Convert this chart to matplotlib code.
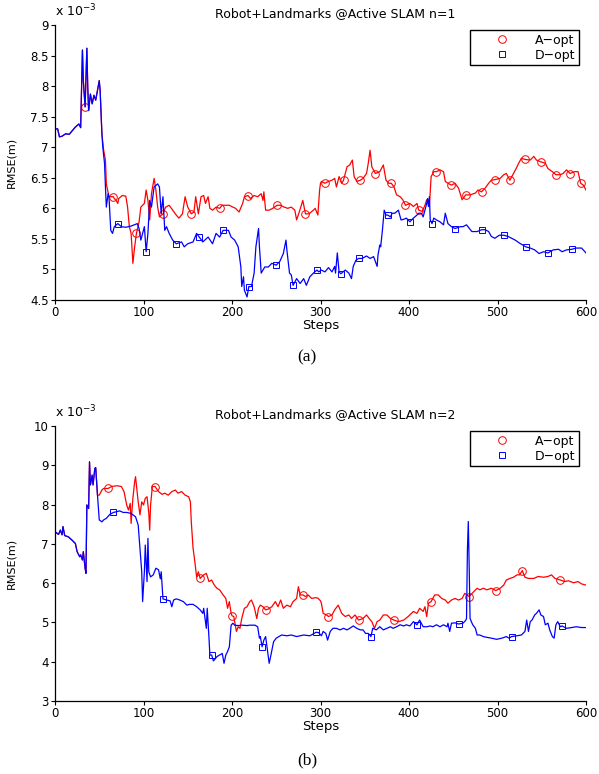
import numpy as np
import matplotlib
matplotlib.use("Agg")
import matplotlib.pyplot as plt
from matplotlib.lines import Line2D
from matplotlib.ticker import FuncFormatter

plt.rcParams['font.family'] = ['DejaVu Sans']

# RMSE values are in units of 1e-3 m
# ---- n=1 ----
steps_d1 = [0, 3, 5, 8, 12, 16, 20, 23, 27, 29, 31, 32, 34, 36, 37, 38, 40, 42, 44, 46, 48, 50, 51, 53, 54,
            56, 57, 58, 60, 61, 63, 65, 67, 71, 75, 80, 86, 93, 95, 97, 101, 103, 105, 107, 109, 112, 116,
            118, 120, 122, 124, 126, 129, 133, 137, 143, 146, 150, 156, 160, 163, 167, 173, 178, 182, 186,
            190, 196, 199, 203, 207, 210, 211, 213, 214, 217, 219, 222, 225, 227, 230, 231, 233, 237, 241,
            245, 250, 254, 258, 261, 262, 265, 267, 269, 273, 277, 281, 284, 288, 292, 296, 298, 301, 305,
            309, 313, 316, 317, 319, 321, 323, 328, 332, 335, 337, 340, 343, 347, 352, 356, 360, 364, 365,
            367, 368, 370, 372, 374, 376, 379, 381, 384, 388, 391, 394, 397, 401, 405, 409, 411, 414, 416,
            418, 420, 421, 422, 423, 424, 426, 428, 431, 435, 439, 441, 444, 448, 452, 458, 461, 465, 471,
            477, 482, 486, 490, 493, 497, 502, 507, 512, 516, 520, 525, 532, 537, 542, 547, 552, 557, 563,
            569, 573, 578, 584, 589, 595, 600]
rmse_d1 = [7.30, 7.30, 7.17, 7.18, 7.22, 7.21, 7.28, 7.33, 7.38, 7.32, 8.59, 8.09, 7.66, 8.62, 7.98, 7.60,
           7.87, 7.71, 7.85, 7.77, 7.93, 8.09, 7.93, 7.22, 7.00, 6.73, 6.35, 6.02, 6.24, 6.19, 5.64, 5.59,
           5.70, 5.75, 5.70, 5.69, 5.71, 5.75, 5.67, 5.48, 5.70, 5.29, 5.59, 6.13, 6.02, 6.35, 6.40, 6.35,
           5.91, 6.19, 5.64, 5.70, 5.59, 5.48, 5.42, 5.45, 5.37, 5.42, 5.45, 5.59, 5.53, 5.45, 5.53, 5.42,
           5.59, 5.53, 5.64, 5.64, 5.53, 5.48, 5.37, 5.04, 4.72, 4.88, 4.66, 4.55, 4.72, 4.72, 4.94, 5.37,
           5.67, 5.37, 4.94, 5.04, 5.04, 5.10, 5.07, 5.13, 5.26, 5.48, 5.32, 4.94, 4.91, 4.74, 4.85, 4.77,
           4.85, 4.74, 4.88, 4.94, 4.99, 4.96, 4.99, 4.96, 5.03, 4.96, 5.05, 4.94, 5.27, 4.96, 4.93, 4.99,
           4.94, 4.85, 5.05, 5.15, 5.18, 5.18, 5.22, 5.18, 5.21, 5.05, 5.24, 5.40, 5.37, 5.65, 5.97, 5.89,
           5.89, 5.86, 5.92, 5.92, 5.97, 5.81, 5.82, 5.84, 5.78, 5.84, 5.89, 5.92, 5.92, 5.86, 5.97, 6.08,
           6.16, 6.03, 6.19, 5.81, 5.75, 5.84, 5.81, 5.78, 5.73, 5.92, 5.75, 5.70, 5.67, 5.70, 5.70, 5.73,
           5.62, 5.62, 5.65, 5.65, 5.62, 5.54, 5.51, 5.56, 5.56, 5.54, 5.51, 5.48, 5.43, 5.37, 5.35, 5.32,
           5.26, 5.29, 5.27, 5.32, 5.33, 5.29, 5.32, 5.33, 5.35, 5.35, 5.27]

steps_a1 = [0, 3, 5, 8, 12, 16, 20, 23, 27, 29, 31, 32, 34, 36, 37, 38, 40, 42, 44, 46, 48, 50, 51, 53, 55,
            57, 58, 61, 66, 67, 69, 71, 72, 76, 80, 82, 84, 86, 88, 90, 92, 95, 97, 101, 103, 105, 107, 109,
            112, 114, 116, 118, 122, 125, 129, 133, 137, 140, 144, 147, 150, 154, 157, 159, 162, 165, 168,
            170, 173, 175, 178, 182, 186, 189, 193, 197, 201, 204, 208, 212, 214, 218, 221, 225, 229, 233,
            235, 236, 238, 242, 246, 251, 255, 259, 263, 267, 271, 273, 276, 280, 283, 287, 292, 294, 297,
            299, 300, 301, 305, 309, 313, 316, 318, 321, 324, 326, 330, 333, 336, 338, 341, 345, 348, 352,
            354, 356, 358, 362, 367, 371, 374, 377, 380, 383, 386, 390, 393, 396, 401, 405, 409, 411, 415,
            418, 420, 423, 425, 428, 431, 435, 439, 441, 444, 448, 452, 456, 460, 464, 469, 475, 478, 482,
            486, 490, 493, 497, 503, 507, 510, 514, 518, 521, 524, 527, 531, 537, 541, 544, 549, 554, 557,
            562, 566, 571, 574, 578, 582, 587, 591, 594, 597, 600]
rmse_a1 = [7.30, 7.30, 7.17, 7.18, 7.22, 7.21, 7.28, 7.33, 7.38, 7.32, 8.59, 8.09, 7.66, 8.62, 7.98, 7.60,
           7.87, 7.71, 7.85, 7.77, 7.93, 8.09, 7.93, 7.22, 6.95, 6.79, 6.40, 6.19, 6.19, 6.16, 6.13, 6.08,
           6.16, 6.21, 6.20, 6.02, 5.70, 5.59, 5.10, 5.37, 5.59, 5.78, 6.02, 6.08, 6.30, 6.13, 5.81, 6.24,
           6.49, 6.30, 6.02, 5.86, 5.91, 6.02, 6.05, 5.97, 5.89, 5.84, 5.91, 6.19, 6.02, 5.91, 5.94, 6.19,
           5.91, 6.19, 6.21, 6.08, 6.19, 6.00, 5.97, 6.02, 6.00, 6.05, 6.05, 6.05, 6.02, 6.00, 5.94, 6.08,
           6.19, 6.21, 6.16, 6.21, 6.19, 6.24, 6.13, 6.27, 5.97, 5.97, 6.00, 6.05, 6.05, 6.02, 6.00, 6.02,
           5.97, 5.81, 5.94, 6.13, 5.91, 5.91, 5.97, 6.00, 5.89, 6.30, 6.41, 6.44, 6.41, 6.44, 6.46, 6.49,
           6.35, 6.52, 6.41, 6.46, 6.68, 6.71, 6.79, 6.52, 6.44, 6.46, 6.49, 6.57, 6.74, 6.95, 6.68, 6.57,
           6.60, 6.71, 6.46, 6.41, 6.41, 6.35, 6.22, 6.19, 6.14, 6.05, 6.08, 6.03, 6.08, 5.97, 5.95, 6.05,
           6.14, 6.03, 6.52, 6.60, 6.60, 6.63, 6.60, 6.44, 6.41, 6.38, 6.41, 6.33, 6.14, 6.22, 6.22, 6.25,
           6.30, 6.27, 6.33, 6.41, 6.46, 6.47, 6.49, 6.55, 6.57, 6.46, 6.57, 6.65, 6.74, 6.82, 6.80, 6.79,
           6.85, 6.79, 6.76, 6.74, 6.65, 6.60, 6.55, 6.55, 6.57, 6.63, 6.57, 6.60, 6.60, 6.41, 6.38, 6.30]

marks_a1 = [35, 66, 92, 122, 155, 187, 219, 251, 283, 305, 326, 345, 362, 380, 396, 411, 431, 448, 464,
            482, 497, 514, 531, 549, 566, 582, 594]
marks_d1 = [71, 104, 137, 165, 192, 220, 250, 271, 297, 323, 345, 376, 401, 427, 452, 480, 506, 532, 557, 584]

# ---- n=2 ----
steps_d2 = [0, 4, 6, 8, 9, 11, 15, 19, 23, 25, 28, 29, 31, 32, 34, 35, 36, 38, 39, 40, 42, 43, 45, 46, 48,
            50, 53, 55, 58, 62, 66, 70, 73, 77, 81, 85, 88, 91, 94, 96, 98, 99, 101, 102, 104, 105, 106,
            108, 111, 114, 117, 119, 120, 122, 126, 130, 132, 134, 137, 141, 145, 149, 152, 156, 160, 164,
            167, 168, 171, 172, 174, 175, 177, 179, 183, 186, 189, 191, 193, 195, 197, 199, 201, 203, 207,
            211, 217, 220, 226, 229, 231, 232, 234, 236, 238, 240, 242, 244, 247, 250, 256, 262, 267, 273,
            281, 288, 295, 298, 301, 303, 306, 308, 311, 314, 318, 322, 326, 330, 333, 337, 341, 345, 348,
            351, 354, 357, 359, 363, 367, 371, 375, 379, 382, 386, 390, 394, 397, 401, 405, 409, 412, 416,
            420, 424, 427, 431, 435, 439, 443, 444, 446, 448, 452, 456, 461, 464, 465, 466, 467, 468, 469,
            472, 475, 477, 480, 484, 488, 493, 499, 505, 510, 513, 516, 522, 527, 531, 533, 535, 537, 539,
            542, 544, 547, 549, 552, 554, 557, 559, 562, 564, 566, 568, 571, 573, 578, 584, 589, 595, 600]
rmse_d2 = [7.31, 7.24, 7.35, 7.23, 7.44, 7.21, 7.18, 7.10, 7.01, 6.80, 6.67, 6.72, 6.59, 6.80, 6.38, 6.25,
           7.99, 7.90, 9.09, 8.50, 8.75, 8.50, 8.92, 8.94, 8.24, 7.61, 7.56, 7.61, 7.65, 7.75, 7.80, 7.82,
           7.84, 7.80, 7.80, 7.78, 7.74, 7.69, 7.48, 6.89, 6.29, 5.53, 6.29, 6.97, 6.04, 7.14, 6.29, 6.16,
           6.21, 6.38, 6.34, 6.11, 6.29, 5.60, 5.57, 5.55, 5.40, 5.57, 5.60, 5.57, 5.53, 5.44, 5.46, 5.46,
           5.40, 5.32, 5.23, 5.36, 4.85, 5.36, 4.60, 4.17, 4.17, 4.02, 4.13, 4.17, 4.21, 3.96, 4.17, 4.26,
           4.38, 4.93, 4.98, 4.93, 4.92, 4.93, 4.92, 4.93, 4.93, 4.89, 4.60, 4.64, 4.38, 4.55, 4.64, 4.30,
           3.96, 4.17, 4.51, 4.60, 4.68, 4.66, 4.68, 4.64, 4.68, 4.66, 4.75, 4.74, 4.66, 4.77, 4.72, 4.55,
           4.77, 4.85, 4.85, 4.81, 4.85, 4.81, 4.85, 4.91, 4.85, 4.81, 4.81, 4.72, 4.72, 4.64, 4.85, 4.81,
           4.89, 4.81, 4.85, 4.89, 4.85, 4.89, 4.94, 4.91, 4.94, 4.91, 5.02, 4.94, 5.06, 4.89, 4.89, 4.91,
           4.89, 4.94, 4.89, 4.94, 4.89, 4.98, 4.77, 4.98, 4.99, 4.96, 4.98, 5.05, 5.10, 6.84, 7.57, 6.42,
           5.10, 4.94, 4.85, 4.68, 4.68, 4.64, 4.62, 4.60, 4.57, 4.60, 4.64, 4.60, 4.64, 4.66, 4.68, 4.77,
           5.06, 4.77, 5.02, 5.06, 5.19, 5.23, 5.32, 5.19, 5.15, 4.94, 4.98, 4.81, 4.64, 4.60, 4.94, 5.02,
           4.89, 4.91, 4.85, 4.87, 4.89, 4.87, 4.87]

steps_a2 = [0, 4, 6, 8, 9, 11, 15, 19, 23, 25, 28, 29, 31, 32, 34, 35, 36, 38, 39, 40, 42, 43, 45, 46, 48,
            50, 53, 55, 60, 64, 70, 75, 78, 81, 83, 85, 86, 88, 90, 91, 92, 94, 96, 98, 100, 102, 104, 106,
            107, 108, 110, 113, 117, 121, 124, 128, 132, 136, 139, 143, 147, 151, 153, 154, 156, 158, 160,
            162, 164, 168, 171, 174, 177, 180, 183, 186, 190, 193, 195, 197, 199, 200, 202, 203, 205, 207,
            209, 211, 214, 217, 220, 222, 225, 228, 230, 232, 235, 238, 241, 245, 249, 252, 255, 258, 262,
            266, 269, 273, 275, 277, 280, 283, 286, 290, 294, 297, 300, 301, 303, 307, 309, 313, 316, 320,
            324, 328, 332, 335, 339, 343, 348, 352, 355, 358, 361, 364, 367, 371, 375, 379, 383, 388, 394,
            399, 405, 409, 412, 416, 418, 420, 422, 425, 429, 433, 437, 441, 444, 448, 452, 456, 460, 463,
            468, 473, 477, 480, 484, 488, 493, 498, 503, 507, 510, 514, 518, 522, 525, 528, 531, 535, 541,
            546, 552, 557, 561, 565, 571, 576, 580, 586, 591, 595, 600]
rmse_a2 = [7.31, 7.24, 7.35, 7.23, 7.44, 7.21, 7.18, 7.10, 7.01, 6.80, 6.67, 6.72, 6.59, 6.80, 6.38, 6.25,
           7.99, 7.90, 9.09, 8.50, 8.75, 8.50, 8.92, 8.94, 8.24, 8.24, 8.37, 8.41, 8.41, 8.46, 8.48, 8.46,
           8.33, 7.99, 7.86, 8.03, 7.52, 8.16, 8.58, 8.71, 8.50, 8.07, 7.74, 8.07, 7.99, 8.16, 8.20, 7.78,
           7.35, 7.99, 8.46, 8.46, 8.33, 8.26, 8.29, 8.24, 8.33, 8.37, 8.29, 8.33, 8.24, 8.20, 8.07, 7.56,
           6.89, 6.55, 6.16, 6.29, 6.12, 6.21, 6.25, 6.04, 6.08, 5.95, 5.87, 5.83, 5.70, 5.61, 5.36, 5.53,
           5.23, 5.17, 5.15, 5.02, 4.77, 4.89, 4.85, 5.10, 5.36, 5.40, 5.53, 5.57, 5.40, 5.10, 5.36, 5.44,
           5.40, 5.32, 5.34, 5.40, 5.53, 5.40, 5.57, 5.36, 5.44, 5.40, 5.53, 5.61, 5.91, 5.70, 5.70, 5.66,
           5.70, 5.61, 5.63, 5.62, 5.55, 5.49, 5.23, 5.19, 5.15, 5.19, 5.32, 5.44, 5.23, 5.15, 5.19, 5.10,
           5.19, 5.06, 5.10, 5.19, 5.10, 5.02, 4.85, 5.02, 5.06, 5.19, 5.19, 5.10, 5.06, 5.02, 5.06, 5.15,
           5.28, 5.23, 5.36, 5.28, 5.40, 5.15, 5.49, 5.53, 5.70, 5.70, 5.61, 5.57, 5.49, 5.57, 5.61, 5.57,
           5.61, 5.74, 5.66, 5.78, 5.87, 5.83, 5.87, 5.83, 5.87, 5.81, 5.87, 5.95, 6.08, 6.12, 6.15, 6.21,
           6.21, 6.32, 6.15, 6.12, 6.12, 6.17, 6.15, 6.17, 6.21, 6.12, 6.08, 6.04, 6.06, 6.01, 6.04, 5.98,
           5.95]

marks_a2 = [60, 113, 164, 200, 238, 280, 309, 343, 383, 425, 468, 498, 527, 571]
marks_d2 = [66, 124, 177, 234, 295, 358, 410, 456, 516, 573]

RED = '#ff0000'
BLUE = '#0000ff'


def nearest_idx(xs, marks):
    xs = np.asarray(xs)
    return [int(np.abs(xs - m).argmin()) for m in marks]


def draw_panel(ax, sa, ya, ma, sd, yd, md, ylim, yticks, title):
    ax.plot(sa, ya, color=RED, lw=0.9, marker='o', ms=5.5, mfc='none', mew=0.7,
            markevery=nearest_idx(sa, ma))
    ax.plot(sd, yd, color=BLUE, lw=0.9, marker='s', ms=5.0, mfc='none', mew=0.7,
            markevery=nearest_idx(sd, md))
    ax.set_xlim(0, 600)
    ax.set_ylim(*ylim)
    ax.set_xticks(range(0, 601, 100))
    ax.set_yticks(yticks)
    ax.yaxis.set_major_formatter(FuncFormatter(lambda v, p: '%g' % v))
    ax.tick_params(direction='out', length=3, width=0.8, labelsize=8.5, pad=1.5)
    for side in ['top', 'right']:
        ax.spines[side].set_visible(False)
    for side in ['left', 'bottom']:
        ax.spines[side].set_linewidth(0.9)
    ax.set_xlabel('Steps', fontsize=9.5)
    ax.xaxis.set_label_coords(0.5, -0.068)
    ax.set_ylabel('RMSE(m)', fontsize=8)
    ax.yaxis.set_label_coords(-0.072, 0.5)
    ax.text(0.0, 1.022, r'x 10$^{-3}$', transform=ax.transAxes, ha='left', va='bottom', fontsize=9)
    ax.text(0.527, 1.04, title, transform=ax.transAxes, ha='center', va='center', fontsize=9)

    handles = [Line2D([], [], color=RED, ls='none', marker='o', ms=5.5, mfc='none', mew=0.7),
               Line2D([], [], color=BLUE, ls='none', marker='s', ms=5.0, mfc='none', mew=0.7)]
    leg = ax.legend(handles, ['A\u2212opt', 'D\u2212opt'], loc='upper right',
                    bbox_to_anchor=(0.987, 0.982), borderaxespad=0, fontsize=9,
                    handlelength=4.6, handletextpad=0.3, labelspacing=0.15,
                    borderpad=0.3, fancybox=False, framealpha=1)
    leg.get_frame().set_edgecolor('black')
    leg.get_frame().set_linewidth(1.0)


fig = plt.figure(figsize=(5.99, 7.74), dpi=100)
ax1 = fig.add_axes([55 / 599, 1 - 300 / 774, 531 / 599, 275 / 774])
ax2 = fig.add_axes([55 / 599, 1 - 701 / 774, 531 / 599, 275 / 774])

draw_panel(ax1, steps_a1, rmse_a1, marks_a1, steps_d1, rmse_d1, marks_d1,
           (4.5, 9), np.arange(4.5, 9.01, 0.5), 'Robot+Landmarks @Active SLAM n=1')
draw_panel(ax2, steps_a2, rmse_a2, marks_a2, steps_d2, rmse_d2, marks_d2,
           (3, 10), np.arange(3, 10.01, 1), 'Robot+Landmarks @Active SLAM n=2')

fig.text(307 / 599, 1 - 357 / 774, '(a)', ha='center', va='center',
         fontsize=12.5, family='Liberation Serif')
fig.text(307 / 599, 1 - 760 / 774, '(b)', ha='center', va='center',
         fontsize=12.5, family='Liberation Serif')

fig.savefig('out.png', dpi=100)
